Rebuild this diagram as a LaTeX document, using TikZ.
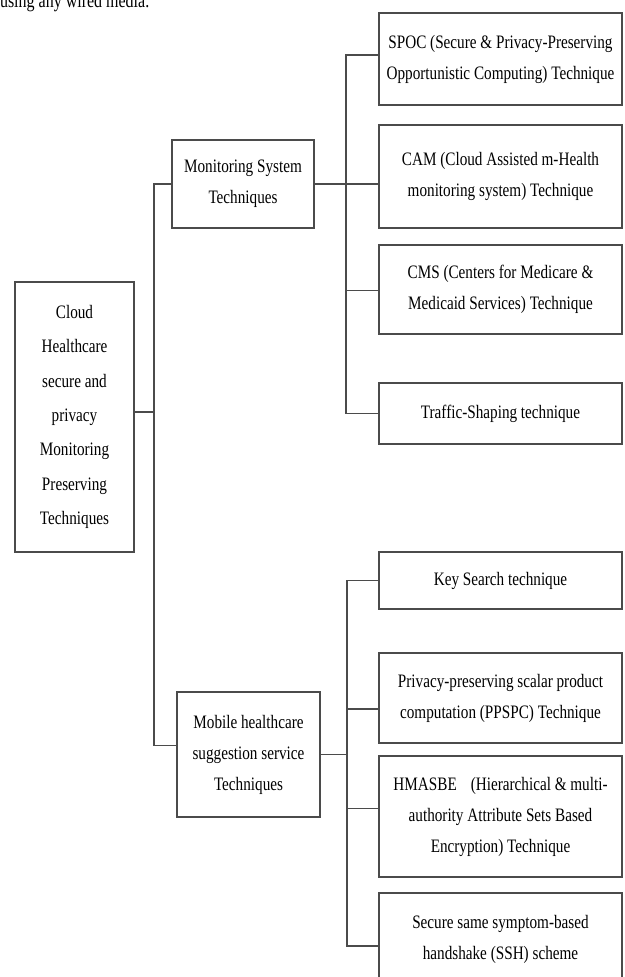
\documentclass[tikz,border=0pt]{standalone}
\usepackage{fontspec}
\setmainfont{Liberation Serif}[FakeStretch=0.8]
\begin{document}
\begin{tikzpicture}[x=1pt,y=-1pt,
  box/.style={draw={rgb,255:red,75;green,75;blue,75},line width=1.3pt,fill=white,inner sep=0pt,outer sep=0pt,align=center,font=\fontsize{19}{31}\selectfont},
  link/.style={draw={rgb,255:red,75;green,75;blue,75},line width=1.3pt}]
\path[use as bounding box] (0,0) rectangle (624,977);
\node[inner sep=0pt,outer sep=0pt,anchor=base west,font=\fontsize{20}{24}\selectfont] (intro) at (0,7) {using any wired media.};
\node[box,minimum width=119pt,minimum height=270pt,font=\fontsize{19}{34.3}\selectfont] (root) at (74.5,417) {Cloud\\Healthcare\\secure and\\privacy\\Monitoring\\Preserving\\Techniques};
\node[box,minimum width=142pt,minimum height=88pt] (mon) at (243,184) {Monitoring System\\Techniques};
\node[box,minimum width=143pt,minimum height=125pt] (mob) at (248.5,754.5) {Mobile healthcare\\suggestion service\\Techniques};
\node[box,minimum width=243pt,minimum height=92pt] (spoc) at (500.5,59) {SPOC (Secure \& Privacy-Preserving\\Opportunistic Computing) Technique};
\node[box,minimum width=243pt,minimum height=103pt] (cam) at (500.5,176.5) {CAM (Cloud Assisted m-Health\\monitoring system) Technique};
\node[box,minimum width=243pt,minimum height=89pt] (cms) at (500.5,289.5) {CMS (Centers for Medicare \&\\Medicaid Services) Technique};
\node[box,minimum width=243pt,minimum height=61pt] (traf) at (500.5,413.5) {Traffic-Shaping technique};
\node[box,minimum width=243pt,minimum height=57pt] (key) at (500.5,580.5) {Key Search technique};
\node[box,minimum width=243pt,minimum height=90pt] (ppspc) at (500.5,698) {Privacy-preserving scalar product\\computation (PPSPC) Technique};
\node[box,minimum width=243pt,minimum height=121pt] (hmasbe) at (500.5,816.5) {HMASBE\hspace{14pt}(Hierarchical \& multi-\\authority Attribute Sets Based\\Encryption) Technique};
\node[box,minimum width=243pt,minimum height=92pt] (ssh) at (500.5,939) {Secure same symptom-based\\handshake (SSH) scheme};
\draw[link] ([yshift=5pt]root.east) -- ++(20,0) |- (mon.west);
\draw[link] ([yshift=5pt]root.east) -- ++(20,0) |- ([yshift=9pt]mob.west);
\draw[link] (mon.east) -- (mon.east -| cam.west);
\draw[link] (mon.east) -- ++(32,0) |- ([yshift=4pt]spoc.west);
\draw[link] (mon.east) -- ++(32,0) |- ([yshift=-1pt]cms.west);
\draw[link] (mon.east) -- ++(32,0) |- (traf.west);
\draw[link] (mob.east) -- ++(27,0) |- (key.west);
\draw[link] (mob.east) -- ++(27,0) |- ([yshift=-11pt]ppspc.west);
\draw[link] (mob.east) -- ++(27,0) |- ([yshift=8pt]hmasbe.west);
\draw[link] (mob.east) -- ++(27,0) |- ([yshift=-7pt]ssh.west);
\end{tikzpicture}
\end{document}
